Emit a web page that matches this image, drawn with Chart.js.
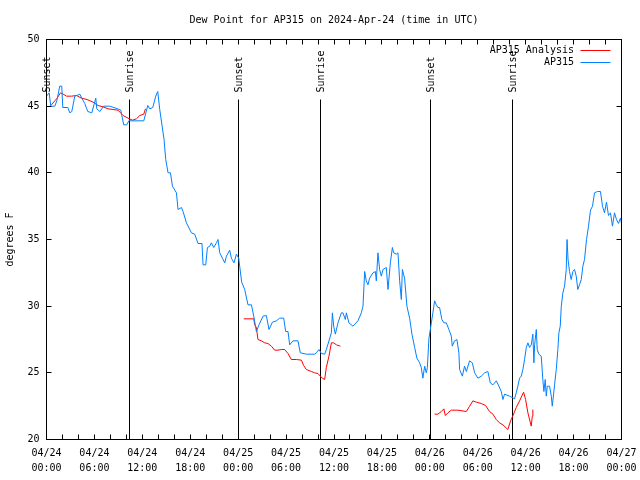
<!DOCTYPE html>
<html>
<head>
<meta charset="utf-8">
<script src="https://cdn.jsdelivr.net/npm/chart.js@4.4.1/dist/chart.umd.min.js"></script>
<style>
  html, body { margin: 0; padding: 0; background: #fff; }
</style>
</head>
<body>
<canvas id="chartCanvas" width="640" height="480"></canvas>
<script>
// -------- DATA (hours since 2024-04-24 00:00 UTC) --------
const titleText = 'Dew Point for AP315 on 2024-Apr-24 (time in UTC)';
const seriesNames = ['AP315 Analysis', 'AP315'];
const seriesColors = ['#ff0000', '#0080ff'];

// analysis: null value = gap in the line
const analysisHours = [
  0.62, 1.04, 1.33, 1.75, 2.08, 2.50, 3.13, 3.75, 4.38, 5.08, 5.83, 6.46, 7.08, 7.71, 8.34, 8.96,
  9.59, 10.21, 10.76, 11.26, 11.68, 12.18, 12.39,
  18,
  24.69, 25.95, 26.08, 26.28, 26.48, 26.91, 27.32, 27.73, 28.16, 28.57, 28.99, 29.41, 29.82, 30.24,
  30.66, 31.29, 31.92, 32.20, 32.54, 33.17, 33.58, 33.99, 34.29, 34.54, 34.83, 35.04, 35.37, 35.67,
  35.96, 36.30, 36.80,
  42,
  48.60, 49.01, 49.44, 49.76, 49.94, 50.26, 50.69, 51.52, 52.57, 52.98, 53.39, 53.82, 54.44, 54.98,
  55.48, 55.90, 56.32, 56.73, 57.15, 57.77, 58.11, 58.38, 58.82, 59.24, 59.74, 59.99, 60.28, 60.70,
  60.83, 60.90
];
const analysisValues = [
  45.1, 45.4, 45.6, 46.0, 45.9, 45.75, 45.75, 45.8, 45.6, 45.5, 45.3, 45.05, 44.95, 44.8, 44.75, 44.7,
  44.3, 44.1, 43.95, 44.05, 44.3, 44.4, 44.8,
  null,
  29.05, 29.05, 28.6, 28.4, 27.5, 27.4, 27.25, 27.2, 27.0, 26.7, 26.7, 26.75, 26.75, 26.45,
  26.0, 26.0, 25.95, 25.55, 25.25, 25.1, 25.0, 24.95, 24.75, 24.6, 24.5, 25.4, 26.25, 27.25,
  27.25, 27.1, 27.0,
  null,
  21.9, 21.9, 22.1, 22.3, 21.8, 22.0, 22.2, 22.2, 22.1, 22.5, 22.9, 22.8, 22.7, 22.55,
  22.1, 21.9, 21.5, 21.25, 21.1, 20.75, 21.4, 21.75, 22.4, 22.9, 23.55, 23.0, 22.0, 21.0,
  21.75, 22.25
];

const obsHours = [
  0.0, 0.33, 0.54, 1.04, 1.29, 1.66, 1.91, 2.04, 2.67, 2.92, 3.17, 3.54, 3.79, 4.17, 4.42, 4.79,
  5.17, 5.67, 6.17, 6.30, 6.67, 7.17, 7.92, 8.92, 9.30, 9.67, 10.05, 10.30, 12.18, 12.68, 12.93, 13.31,
  13.68, 13.93, 14.18, 14.72, 14.93, 15.22, 15.52, 15.77, 16.27, 16.47, 16.90, 17.10, 17.52, 18.15,
  18.56, 18.97, 19.47, 19.60, 19.94, 20.15, 20.44, 20.65, 20.94, 21.28, 21.48, 21.69, 22.03, 22.32,
  22.53, 22.94, 23.15, 23.48, 23.78, 24.07, 24.19, 24.44, 24.82, 25.23, 25.66, 25.95, 26.28, 26.61,
  27.11, 27.53, 27.86, 28.29, 28.79, 29.20, 29.70, 29.95, 30.24, 30.45, 30.86, 31.49, 31.78, 32.54,
  33.58, 33.79, 34.12, 34.42, 34.83, 35.04, 35.37, 35.67, 35.80, 35.96, 36.17, 36.50, 36.92, 37.12,
  37.42, 37.55, 37.87, 38.37, 39.00, 39.42, 39.63, 39.84, 40.04, 40.25, 40.46, 40.88, 41.18, 41.30,
  41.50, 41.71, 41.93, 42.13, 42.55, 42.76, 43.06, 43.31, 43.47, 43.81, 44.01, 44.22, 44.43, 44.56,
  44.84, 45.13, 45.47, 45.76, 46.10, 46.38, 46.72, 46.93, 47.13, 47.35, 47.56, 47.69, 47.89, 48.19,
  48.38, 48.60, 48.81, 49.01, 49.22, 49.51, 49.76, 50.06, 50.39, 50.69, 50.81, 51.10, 51.39, 51.64,
  51.73, 52.07, 52.35, 52.57, 52.98, 53.32, 53.61, 54.02, 54.44, 54.86, 55.27, 55.57, 55.90, 56.32,
  56.65, 56.95, 57.15, 57.36, 57.99, 58.61, 58.82, 59.02, 59.24, 59.45, 59.65, 59.86, 60.08, 60.28,
  60.49, 60.70, 60.90, 61.03, 61.12, 61.33, 61.45, 61.65, 61.95, 62.15, 62.28, 62.45, 62.58, 62.70,
  62.99, 63.21, 63.33, 63.50, 63.62, 63.83, 64.03, 64.16, 64.33, 64.46, 64.66, 64.87, 65.08, 65.18,
  65.31, 65.49, 65.70, 65.91, 66.12, 66.33, 66.53, 66.74, 66.96, 67.16, 67.37, 67.62, 67.87, 68.12,
  68.37, 68.62, 68.99, 69.37, 69.62, 69.87, 70.12, 70.37, 70.62, 70.87, 71.12, 71.37, 71.62, 71.87,
  72.0
];
const obsValues = [
  45.75, 46.0, 45.0, 45.0, 45.4, 46.5, 46.5, 44.9, 44.9, 44.5, 44.6, 45.75, 45.8, 45.9, 45.6, 45.2,
  44.6, 44.5, 45.6, 44.8, 44.6, 45.0, 45.0, 44.8, 44.7, 43.6, 43.6, 43.9, 43.9, 45.05, 44.8, 44.9,
  45.75, 46.1, 44.75, 42.5, 41.0, 40.0, 40.0, 39.0, 38.5, 37.25, 37.4, 37.1, 36.25, 35.5,
  35.4, 34.7, 34.7, 33.1, 33.1, 34.4, 34.5, 34.75, 34.4, 34.75, 35.0, 34.0, 33.6, 33.25,
  33.75, 34.2, 33.6, 33.25, 33.9, 33.6, 33.0, 31.8, 31.25, 30.1, 30.1, 29.25, 28.1, 28.6,
  29.25, 29.3, 28.25, 28.8, 28.9, 29.1, 29.1, 28.1, 28.1, 27.1, 27.4, 27.4, 26.5, 26.4,
  26.4, 26.5, 26.75, 26.45, 26.4, 26.75, 27.4, 28.0, 29.5, 28.5, 27.9, 28.75, 29.5, 29.5,
  29.0, 29.5, 28.75, 28.5, 28.9, 29.5, 30.0, 32.6, 31.9, 31.6, 32.1, 32.5, 32.6, 31.9,
  34.0, 32.75, 32.25, 32.75, 32.9, 31.25, 33.25, 34.4, 34.0, 33.9, 34.0, 31.9, 30.5, 32.75,
  32.1, 30.0, 29.1, 27.9, 26.9, 26.1, 25.75, 25.4, 24.6, 25.5, 25.0, 25.4, 27.6, 28.75,
  29.5, 30.4, 30.1, 29.9, 29.9, 29.0, 28.75, 28.75, 28.25, 27.75, 27.0, 27.4, 27.5, 26.5,
  25.25, 24.75, 25.5, 25.1, 25.9, 25.75, 25.0, 24.6, 24.75, 25.0, 25.1, 24.25, 24.1, 24.4,
  24.0, 23.6, 23.0, 23.4, 23.25, 23.05, 23.5, 24.0, 24.6, 24.75, 25.25, 26.0, 26.9, 27.25,
  26.9, 27.1, 27.9, 25.75, 27.1, 28.25, 26.75, 26.4, 26.25, 24.5, 23.6, 24.5, 23.25, 24.0,
  24.0, 23.25, 22.5, 23.4, 24.1, 25.25, 26.75, 28.0, 28.5, 30.0, 31.0, 31.5, 32.75, 35.0,
  33.5, 32.6, 32.0, 32.6, 32.75, 32.25, 31.25, 31.6, 32.0, 33.0, 33.5, 35.0, 36.0, 37.2,
  37.5, 38.5, 38.6, 38.6, 37.5, 37.0, 37.8, 36.8, 37.0, 36.0, 37.0, 36.5, 36.2, 36.6,
  36.2
];

// x tick labels, one pair every 6 hours
const tickDates = ['04/24', '04/24', '04/24', '04/24', '04/25', '04/25', '04/25', '04/25',
                   '04/26', '04/26', '04/26', '04/26', '04/27'];
const tickTimes = ['00:00', '06:00', '12:00', '18:00', '00:00', '06:00', '12:00', '18:00',
                   '00:00', '06:00', '12:00', '18:00', '00:00'];

// sunrise / sunset markers
const eventHours = [0, 10.35, 24.0, 34.3, 48.05, 58.35];
const eventNames = ['Sunset', 'Sunrise', 'Sunset', 'Sunrise', 'Sunset', 'Sunrise'];
const markerTop = 45.5;

const FONT_FAMILY = "'DejaVu Sans Mono', monospace";
const FONT = '10px ' + FONT_FAMILY;

function toPoints(hours, values) {
    return hours.map((h, i) => ({ x: h, y: values[i] }));
}

// -------- EXTRA DRAWING (gnuplot look) --------
const gnuplotLook = {
    id: 'gnuplotLook',
    beforeDatasetsDraw(chart) {
        const { ctx, chartArea: a, scales: { x, y } } = chart;
        ctx.save();
        ctx.strokeStyle = '#000';
        ctx.fillStyle = '#000';
        ctx.lineWidth = 1;
        ctx.font = FONT;
        const top = y.getPixelForValue(markerTop);
        eventHours.forEach((h, i) => {
            const px = Math.floor(x.getPixelForValue(h)) + 0.5;
            ctx.beginPath();
            ctx.moveTo(px, top);
            ctx.lineTo(px, a.bottom);
            ctx.stroke();
            ctx.save();
            ctx.translate(px + 1, top - 7);
            ctx.rotate(-Math.PI / 2);
            ctx.textAlign = 'left';
            ctx.textBaseline = 'middle';
            ctx.fillText(eventNames[i], 0, 0);
            ctx.restore();
        });
        ctx.restore();
    },
    afterDraw(chart) {
        const { ctx, chartArea: a, scales: { x, y } } = chart;
        ctx.save();
        ctx.strokeStyle = '#000';
        ctx.lineWidth = 1;

        // frame
        ctx.strokeRect(Math.floor(a.left) + 0.5, Math.floor(a.top) + 0.5,
            Math.floor(a.right) - Math.floor(a.left), Math.floor(a.bottom) - Math.floor(a.top));

        // inward ticks, all four sides
        ctx.beginPath();
        x.ticks.forEach(t => {
            const px = Math.floor(x.getPixelForValue(t.value)) + 0.5;
            ctx.moveTo(px, a.bottom); ctx.lineTo(px, a.bottom - 5);
            ctx.moveTo(px, a.top); ctx.lineTo(px, a.top + 5);
        });
        y.ticks.forEach(t => {
            const py = Math.floor(y.getPixelForValue(t.value)) + 0.5;
            ctx.moveTo(a.left, py); ctx.lineTo(a.left + 5, py);
            ctx.moveTo(a.right, py); ctx.lineTo(a.right - 5, py);
        });
        ctx.stroke();

        // title centred on the plot
        ctx.fillStyle = '#000';
        ctx.font = FONT;
        ctx.textAlign = 'center';
        ctx.textBaseline = 'middle';
        ctx.fillText(titleText, (a.left + a.right) / 2, 20);

        // key, top right inside the plot
        ctx.textAlign = 'right';
        seriesNames.forEach((name, i) => {
            const ly = a.top + 11 + i * 12;
            ctx.fillStyle = '#000';
            ctx.fillText(name, a.right - 47.5, ly);
            ctx.strokeStyle = seriesColors[i];
            ctx.beginPath();
            ctx.moveTo(a.right - 41, Math.floor(ly) + 0.5);
            ctx.lineTo(a.right - 11, Math.floor(ly) + 0.5);
            ctx.stroke();
        });
        ctx.restore();
    }
};

// -------- CHART --------
const chartCtx = document.getElementById('chartCanvas').getContext('2d');
window.dewChart = new Chart(chartCtx, {
    type: 'line',
    data: {
        datasets: [
            {
                label: seriesNames[0],
                data: toPoints(analysisHours, analysisValues),
                borderColor: seriesColors[0],
                borderWidth: 1,
                pointRadius: 0,
                tension: 0,
                spanGaps: false,
                order: 2
            },
            {
                label: seriesNames[1],
                data: toPoints(obsHours, obsValues),
                borderColor: seriesColors[1],
                borderWidth: 1,
                pointRadius: 0,
                tension: 0,
                order: 1
            }
        ]
    },
    options: {
        responsive: false,
        animation: false,
        layout: { padding: { left: 0, right: 18.5, top: 39.5, bottom: 0 } },
        plugins: {
            legend: { display: false },
            tooltip: { enabled: false },
            title: { display: false }
        },
        scales: {
            x: {
                type: 'linear',
                min: 0,
                max: 72,
                grid: { display: false, drawTicks: false },
                border: { display: false },
                ticks: {
                    stepSize: 2,
                    autoSkip: false,
                    maxRotation: 0,
                    padding: 6,
                    color: '#000',
                    font: { family: FONT_FAMILY, size: 10, lineHeight: 1.5 },
                    callback: v => (v % 6 === 0 ? [tickDates[v / 6], tickTimes[v / 6]] : '')
                },
                afterFit: s => {
                    s.height = 40.5;
                    s.paddingLeft = 0;
                    s.paddingRight = 0;
                }
            },
            y: {
                min: 20,
                max: 50,
                grid: { display: false, drawTicks: false },
                border: { display: false },
                ticks: {
                    stepSize: 5,
                    padding: 7,
                    color: '#000',
                    font: { family: FONT_FAMILY, size: 10 }
                },
                title: {
                    display: true,
                    text: 'degrees F',
                    color: '#000',
                    padding: { top: 4, bottom: 0 },
                    font: { family: FONT_FAMILY, size: 10 }
                },
                afterFit: s => { s.width = 46.5; }
            }
        }
    },
    plugins: [gnuplotLook]
});
</script>
</body>
</html>
